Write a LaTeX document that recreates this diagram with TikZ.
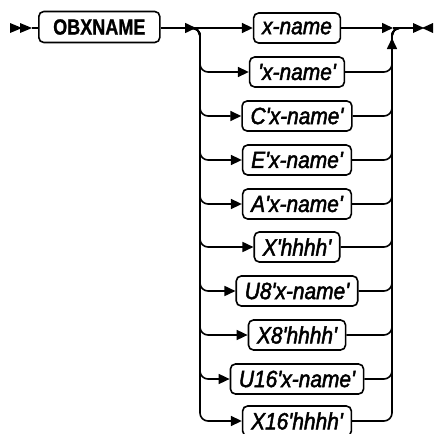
\documentclass[tikz,border=0pt]{standalone}
\usepackage{fontspec}
\setmainfont{Liberation Sans}
\newfontfamily\kwfont{Liberation Sans}[FakeBold=2,FakeStretch=0.89]
\newfontfamily\cmdfont{Liberation Sans}[FakeBold=1,FakeStretch=0.82]
\usetikzlibrary{arrows.meta}
\begin{document}
\begin{tikzpicture}[x=1pt,y=-1pt,line width=1.6pt,
  tip/.style={-{Triangle[length=11pt,width=10pt]}},
  kw/.style={draw,rounded corners=5pt,minimum height=30pt,inner xsep=8.5pt,inner ysep=0pt,font=\kwfont\fontsize{23.5}{24}\selectfont\itshape},
  rail/.style={rounded corners=8pt}]
\useasboundingbox (0,0) rectangle (434,434);
% start symbol
\fill (10,23) -- (22,28) -- (10,33) -- cycle;
\fill (20,23) -- (32,28) -- (20,33) -- cycle;
\node[draw,rounded corners=5pt,minimum height=31pt,minimum width=121pt,inner sep=0pt,anchor=west] (obx) at (38,27) {\cmdfont\fontsize{22}{24}\selectfont\bfseries OBXNAME};
\draw (32,28) -- (obx.west |- 0,28);
\coordinate (j1) at (196,28);
\coordinate (j2) at (393,28);
\coordinate (endp) at (413,28);
\draw[tip] (obx.east |- 0,28) -- (j1);
% boxes
\node[kw] (b1) at (297,28) {x-name};
\node[kw] (b2) at (297,72) {'x-name'};
\node[kw] (b3) at (297,116) {C'x-name'};
\node[kw] (b4) at (297,160) {E'x-name'};
\node[kw] (b5) at (297,204) {A'x-name'};
\node[kw] (b6) at (297,247) {X'hhhh'};
\node[kw] (b7) at (297,291) {U8'x-name'};
\node[kw] (b8) at (297,335) {X8'hhhh'};
\node[kw] (b9) at (297,379) {U16'x-name'};
\node[kw] (b10) at (297,421) {X16'hhhh'};
\draw[tip] (j1) -- (b1.west);
\draw[tip] (b1.east) -- (j2);
\foreach \b in {b2,b3,b4,b5,b6,b7,b8,b9,b10}{
  \draw[rail,tip] (j1) -- (200,28) -- (200,0 |- \b.west) -- (\b.west);
  \draw[rail] (\b.east) -- (392,0 |- \b.east) -- (392,28) -- (endp);
}
\draw[tip] (392,52) -- (392,38);
\draw (j2) -- (endp);
% end symbol
\fill (413,23) -- (424,28) -- (413,33) -- cycle;
\fill (433,23) -- (422,28) -- (433,33) -- cycle;
\end{tikzpicture}
\end{document}
